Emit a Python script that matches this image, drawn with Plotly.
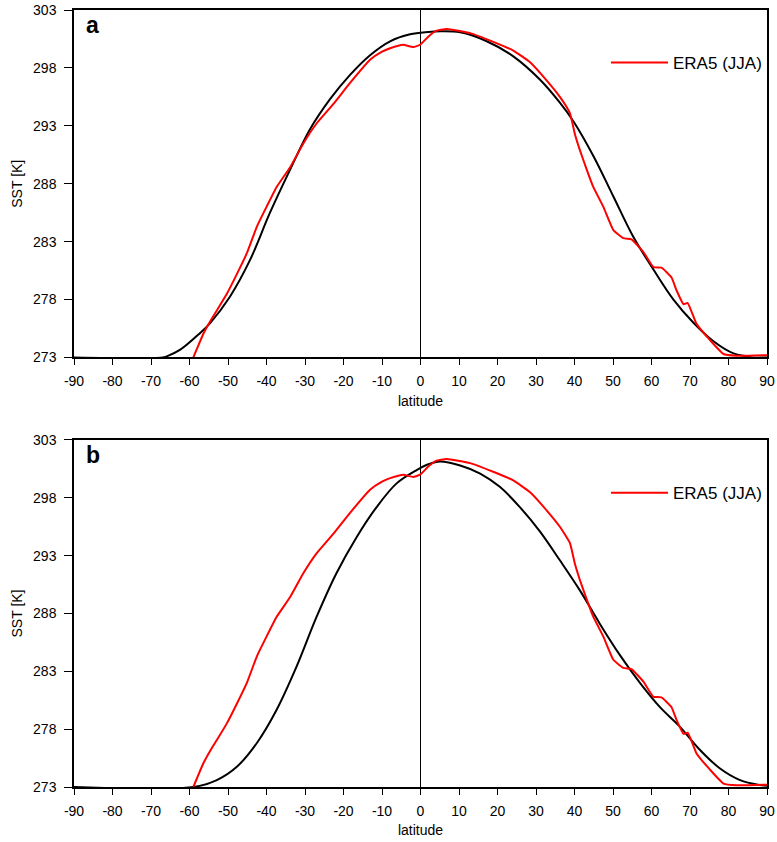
import plotly.graph_objects as go

# ---- data ----
era5_lat = [-59.0, -58.0, -56.4, -54.5, -52.9, -50.3, -47.7, -45.1, -42.5, -40.0,
            -37.4, -33.9, -30.4, -27.0, -22.6, -18.3, -13.1, -10.0, -7.9, -4.5,
            -1.9, -0.1, 2.0, 4.0, 6.8, 12.9, 18.9, 24.1, 28.4, 32.8,
            36.2, 38.8, 40.1, 41.4, 43.2, 44.9, 47.5, 50.1, 52.7, 54.8,
            57.9, 60.5, 62.6, 65.2, 66.5, 68.3, 69.4, 71.7, 75.2, 78.7,
            82.1, 90.0]
era5_sst = [273.0, 273.8, 275.05, 276.2, 277.06, 278.5, 280.2, 282.0, 284.3, 286.0,
            287.7, 289.4, 291.5, 293.2, 294.9, 296.7, 298.7, 299.4, 299.7, 300.0,
            299.8, 300.0, 300.7, 301.2, 301.35, 301.0, 300.25, 299.5, 298.5, 296.9,
            295.5, 294.1, 292.3, 290.9, 289.2, 287.7, 286.0, 284.0, 283.3, 283.2,
            282.1, 280.8, 280.75, 279.9, 278.8, 277.6, 277.7, 275.9, 274.5, 273.3,
            273.15, 273.2]

fit_a_lat = [-90, -67, -65.9, -62.5, -57.3, -54.7, -49.5, -44.3, -39.1, -33.9,
             -28.7, -23.5, -18.3, -13.1, -7.9, -2.7, 2.0, 5.1, 10.3, 17.2,
             24.1, 31.0, 36.2, 39.7, 44.9, 50.1, 55.3, 60.5, 65.7, 70.9,
             76.1, 81.3, 84.7, 86.0, 90]
fit_a_sst = [273.0, 273.0, 273.1, 273.65, 275.1, 275.95, 278.25, 281.4, 285.5, 289.2,
             292.7, 295.3, 297.4, 299.1, 300.3, 300.9, 301.1, 301.16, 301.07, 300.3,
             299.0, 297.0, 295.0, 293.4, 290.4, 286.9, 283.4, 280.6, 278.0, 276.0,
             274.4, 273.35, 273.1, 273.0, 273.0]

fit_b_lat = [-90, -59, -52.9, -47.7, -42.5, -37.4, -32.2, -27.0, -21.8, -16.6,
             -11.4, -6.2, -1.0, 2.0, 5.1, 10.3, 15.5, 20.6, 25.8, 31.0,
             36.2, 41.4, 46.6, 51.8, 57.0, 62.2, 67.4, 72.6, 77.8, 83.0,
             88.2, 90]
fit_b_sst = [273.0, 273.0, 273.6, 274.75, 276.8, 279.65, 283.4, 287.7, 291.5, 294.6,
             297.2, 299.25, 300.4, 300.9, 301.15, 300.8, 300.1, 298.95, 297.2, 295.1,
             292.6, 290.0, 287.1, 284.4, 282.0, 279.9, 278.2, 276.2, 274.6, 273.6,
             273.17, 273.1]

x_ticks = list(range(-90, 91, 10))
x_tick_text = [str(v) for v in x_ticks]
y_ticks = [273, 278, 283, 288, 293, 298, 303]
panel_labels = ["a", "b"]
legend_name = "ERA5 (JJA)"

FONT = "Liberation Sans, Arial, Helvetica, sans-serif"

fig = go.Figure()

# panel a
fig.add_trace(go.Scatter(x=fit_a_lat, y=fit_a_sst, mode="lines",
                         line=dict(color="black", width=2, shape="spline", smoothing=1.0),
                         showlegend=False, xaxis="x", yaxis="y"))
fig.add_trace(go.Scatter(x=era5_lat, y=era5_sst, mode="lines", name=legend_name,
                         line=dict(color="#ff0000", width=2, shape="spline", smoothing=0.4),
                         showlegend=True, legend="legend", xaxis="x", yaxis="y"))
# panel b
fig.add_trace(go.Scatter(x=fit_b_lat, y=fit_b_sst, mode="lines",
                         line=dict(color="black", width=2, shape="spline", smoothing=1.0),
                         showlegend=False, xaxis="x2", yaxis="y2"))
fig.add_trace(go.Scatter(x=era5_lat, y=era5_sst, mode="lines", name=legend_name,
                         line=dict(color="#ff0000", width=2, shape="spline", smoothing=0.4),
                         showlegend=True, legend="legend2", xaxis="x2", yaxis="y2"))

xa = dict(range=[-90, 90], tickmode="array", tickvals=x_ticks, ticktext=x_tick_text,
          ticks="outside", ticklen=6, tickwidth=1.3, automargin=False,
          ticklabeloverflow="allow",
          tickcolor="black", showline=True, linecolor="black", linewidth=1.5, mirror=True,
          showgrid=False, zeroline=False, tickfont=dict(size=14, color="black", family=FONT),
          title=dict(text="latitude", font=dict(size=14, color="black", family=FONT), standoff=8),
          ticklabelstandoff=4)
ya = dict(range=[273, 303], tickmode="array", tickvals=y_ticks,
          ticks="outside", ticklen=8, tickwidth=1.3, automargin=False,
          ticklabeloverflow="allow",
          tickcolor="black", showline=True, linecolor="black", linewidth=1.5, mirror=True,
          showgrid=False, zeroline=False, tickfont=dict(size=14, color="black", family=FONT),
          title=dict(text="SST [K]", font=dict(size=14, color="black", family=FONT), standoff=7),
          ticklabelstandoff=5)

leg = dict(x=1.0, xanchor="right", yanchor="middle", bgcolor="rgba(0,0,0,0)",
           font=dict(size=17, color="black", family=FONT), borderwidth=0, itemwidth=57)

fig.update_layout(
    template="none",
    width=777, height=842,
    margin=dict(l=74, r=10, t=10, b=55, autoexpand=False),
    paper_bgcolor="white", plot_bgcolor="white",
    font=dict(family=FONT, color="black"),
    xaxis=dict(xa, domain=[0, 1], anchor="y"),
    yaxis=dict(ya, domain=[0.5528, 1.0], anchor="x"),
    xaxis2=dict(xa, domain=[0, 1], anchor="y2"),
    yaxis2=dict(ya, domain=[0.0, 0.4466], anchor="x2"),
    legend=dict(leg, y=0.932),
    legend2=dict(leg, y=0.378),
)

# vertical reference line at the equator in both panels
for xr, yr in [("x", "y domain"), ("x2", "y2 domain")]:
    fig.add_shape(type="line", x0=0, x1=0, y0=0, y1=1, xref=xr, yref=yr,
                  line=dict(color="black", width=1), layer="below")

# panel labels
for lab, xr, yr in zip(panel_labels, ["x domain", "x2 domain"], ["y domain", "y2 domain"]):
    fig.add_annotation(text="<b>%s</b>" % lab, xref=xr, yref=yr, x=0.014, y=1.0,
                       xanchor="left", yanchor="top", showarrow=False,
                       font=dict(size=23, color="black", family=FONT))

# remove the browser's default 8 px page margin so the figure fills the window
fig.write_html("out.html", config={"displayModeBar": False},
               post_script="document.body.style.margin='0';")
